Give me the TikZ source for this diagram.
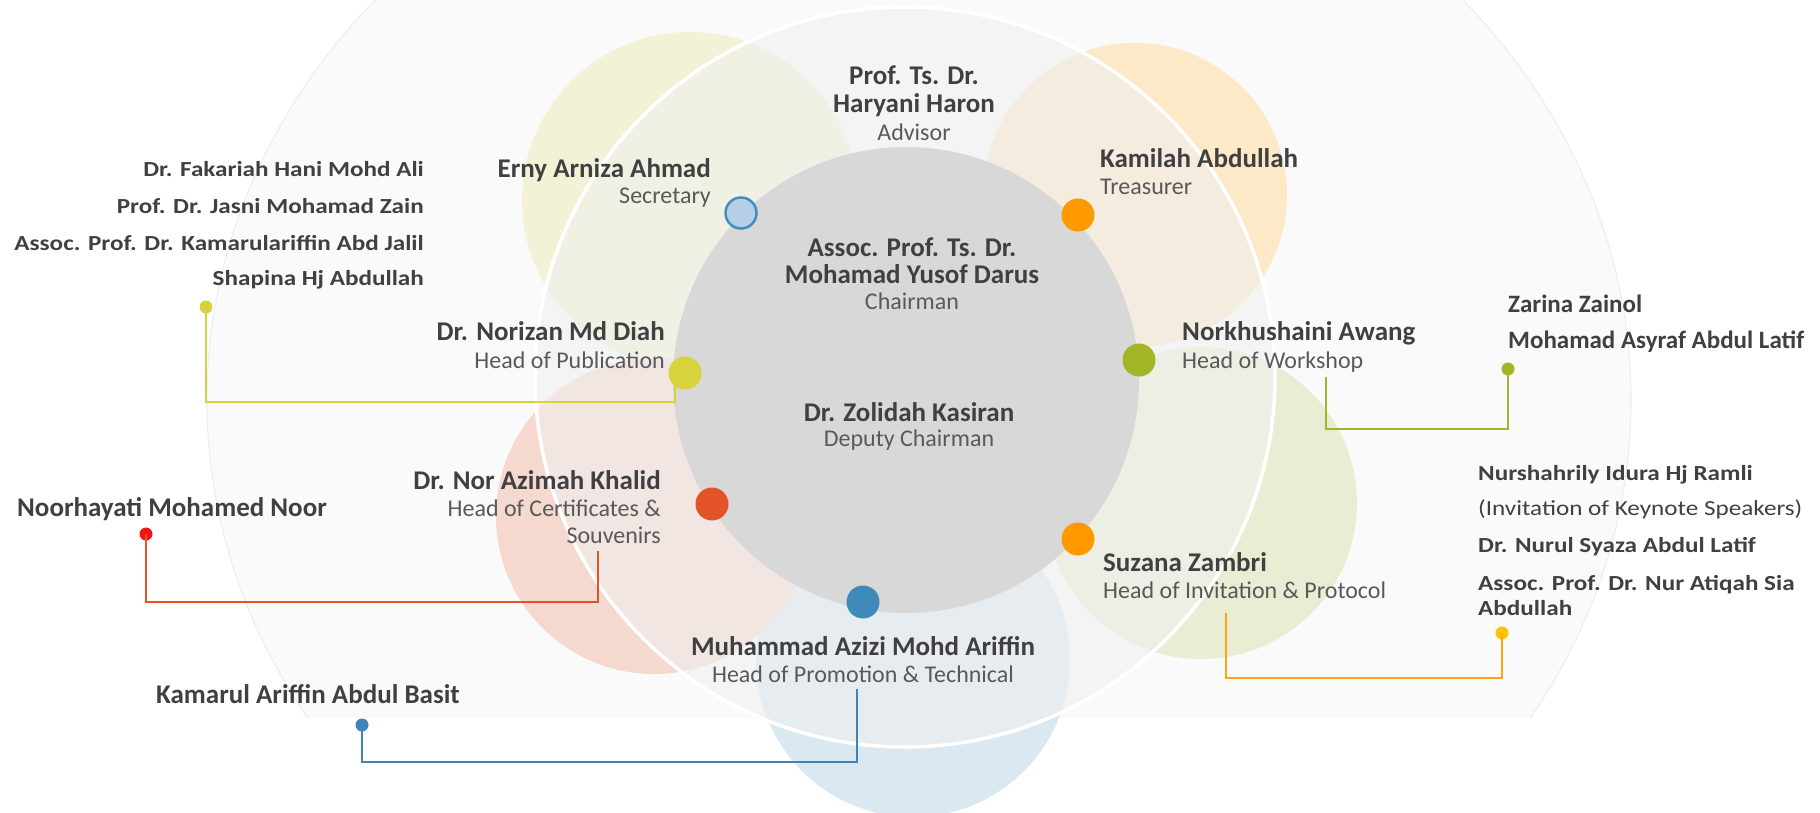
\documentclass[tikz,border=0pt]{standalone}
\usepackage{fontspec}
\setmainfont{Carlito}
\newfontfamily\widefont[FakeStretch=1.17]{Carlito}
\definecolor{cName}{RGB}{64,64,64}
\definecolor{cRole}{RGB}{89,89,89}
\definecolor{outerfill}{RGB}{250,250,250}
\definecolor{outeredge}{RGB}{238,238,238}
\definecolor{midfill}{RGB}{240,240,240}
\definecolor{coregray}{RGB}{216,216,216}
\definecolor{petYellow}{RGB}{244,242,214}
\definecolor{petOrange}{RGB}{253,232,200}
\definecolor{petGreen}{RGB}{233,237,211}
\definecolor{petBlue}{RGB}{218,232,242}
\definecolor{petRed}{RGB}{245,217,207}
\definecolor{secFill}{RGB}{182,207,231}
\definecolor{secDraw}{RGB}{66,142,192}
\definecolor{dOrange}{RGB}{255,153,0}
\definecolor{dGreen}{RGB}{163,181,39}
\definecolor{dBlue}{RGB}{62,138,184}
\definecolor{dRed}{RGB}{226,84,40}
\definecolor{dYellow}{RGB}{216,211,60}
\definecolor{lPub}{RGB}{214,209,62}
\definecolor{lWork}{RGB}{163,181,39}
\definecolor{lCert}{RGB}{226,84,40}
\definecolor{eCert}{RGB}{240,20,20}
\definecolor{lPromo}{RGB}{60,133,182}
\definecolor{lInv}{RGB}{255,165,20}
\definecolor{eInv}{RGB}{255,198,0}
\begin{document}
\begin{tikzpicture}[x=1pt,y=-1pt,
  namet/.style={font=\fontsize{27}{30}\selectfont\bfseries, text=cName, inner sep=0pt},
  rolet/.style={font=\fontsize{24}{28}\selectfont, text=cRole, inner sep=0pt},
  sidet/.style={font=\widefont\fontsize{21.5}{26}\selectfont\bfseries, text=cName, inner sep=0pt},
  sidereg/.style={font=\widefont\fontsize{21.5}{26}\selectfont, text=cName, inner sep=0pt},
  bigt/.style={font=\fontsize{27}{30}\selectfont\bfseries, text=cName, inner sep=0pt},
  midt/.style={font=\fontsize{25}{30}\selectfont\bfseries, text=cName, inner sep=0pt},
  bigdot/.style={circle, minimum size=33pt, inner sep=0pt},
  enddot/.style={circle, minimum size=13pt, inner sep=0pt},
  conn/.style={line width=2.5pt}]
\useasboundingbox (0,0) rectangle (1820,813);
% outer pale shape
\begin{scope}
  \clip (0,0) rectangle (1820,717);
  \filldraw[fill=outerfill, draw=outeredge, line width=1.2pt] (919,400) ellipse [x radius=712, y radius=620];
\end{scope}
% petals
\fill[petYellow] (690,200) circle [radius=168];
\fill[petOrange] (1135,195) circle [radius=152];
\fill[petGreen] (1201,503) circle [radius=156];
\fill[petBlue] (913,660) circle [radius=157];
\fill[petRed] (654,516) circle [radius=158];
% middle ring
\fill[midfill, fill opacity=0.6] (905,377) circle [radius=370];
\draw[white, line width=3.5pt] (905,377) circle [radius=370];
% core
\fill[coregray] (906,380) circle [radius=233];

% connector coordinates and end dots
\coordinate (pubS) at (675,383);   \coordinate (pubY) at (0,402);
\coordinate (workS) at (1326,377); \coordinate (workY) at (0,429);
\coordinate (certS) at (598,551);  \coordinate (certY) at (0,602);
\coordinate (promoS) at (857,689); \coordinate (promoY) at (0,762);
\coordinate (invS) at (1226,613);  \coordinate (invY) at (0,678);
\node[enddot, fill=lPub] (pubEnd) at (206,307) {};
\node[enddot, fill=lWork] (workEnd) at (1508,369) {};
\node[enddot, fill=eCert] (certEnd) at (146,534) {};
\node[enddot, fill=lPromo] (promoEnd) at (362,725) {};
\node[enddot, fill=eInv] (invEnd) at (1502,633) {};
\draw[conn, lPub] (pubS) -- (pubS |- pubY) -| (pubEnd.center);
\draw[conn, lWork] (workS) -- (workS |- workY) -| (workEnd.center);
\draw[conn, lCert] (certS) -- (certS |- certY) -| (certEnd.center);
\draw[conn, lPromo] (promoS) -- (promoS |- promoY) -| (promoEnd.center);
\draw[conn, lInv] (invS) -- (invS |- invY) -| (invEnd.center);

% big dots
\node[bigdot, fill=secFill, draw=secDraw, line width=2.5pt, minimum size=31pt] (secDot) at (741,213) {};
\node[bigdot, fill=dOrange] (treDot) at (1078,215) {};
\node[bigdot, fill=dGreen] (workDot) at (1139,360) {};
\node[bigdot, fill=dOrange] (invDot) at (1078,539) {};
\node[bigdot, fill=dBlue] (promoDot) at (863,602) {};
\node[bigdot, fill=dRed] (certDot) at (712,504) {};
\node[bigdot, fill=dYellow] (pubDot) at (685,373) {};

% texts: advisor
\node[namet, anchor=base] (advA) at (914,85) {Prof. Ts. Dr.};
\node[namet, anchor=base] (advB) at (914,113) {Haryani Haron};
\node[rolet, anchor=base] (advR) at (914,141) {Advisor};
% secretary
\node[namet, anchor=base east] (secN) at (711,178) {Erny Arniza Ahmad};
\node[rolet, anchor=base east] (secR) at (711,204) {Secretary};
% chairman
\node[namet, anchor=base] (chA) at (912,256) {Assoc. Prof. Ts. Dr.};
\node[namet, anchor=base] (chB) at (912,283) {Mohamad Yusof Darus};
\node[rolet, anchor=base] (chR) at (912,309) {Chairman};
% treasurer
\node[namet, anchor=base west] (treN) at (1100,168) {Kamilah Abdullah};
\node[rolet, anchor=base west] (treR) at (1100,195) {Treasurer};
% workshop
\node[namet, anchor=base west] (workN) at (1182,340) {Norkhushaini Awang};
\node[rolet, anchor=base west] (workR) at (1182,368) {Head of Workshop};
% publication
\node[namet, anchor=base east] (pubN) at (665,340) {Dr. Norizan Md Diah};
\node[rolet, anchor=base east] (pubR) at (665,368) {Head of Publication};
% deputy
\node[namet, anchor=base] (depN) at (909,421) {Dr. Zolidah Kasiran};
\node[rolet, anchor=base] (depR) at (909,446) {Deputy Chairman};
% certificates
\node[namet, anchor=base east] (certN) at (661,489) {Dr. Nor Azimah Khalid};
\node[rolet, anchor=base east] (certR) at (661,516) {Head of Certificates \&};
\node[rolet, anchor=base east] (certR2) at (661,543) {Souvenirs};
% invitation
\node[namet, anchor=base west] (invN) at (1103,571) {Suzana Zambri};
\node[rolet, anchor=base west] (invR) at (1103,598) {Head of Invitation \& Protocol};
% promotion
\node[namet, anchor=base] (promoN) at (863,655) {Muhammad Azizi Mohd Ariffin};
\node[rolet, anchor=base] (promoR) at (863,682) {Head of Promotion \& Technical};

% publication members
\node[sidet, anchor=base east] (pm1) at (424,177) {Dr. Fakariah Hani Mohd Ali};
\node[sidet, anchor=base east] (pm2) at (424,214) {Prof. Dr. Jasni Mohamad Zain};
\node[sidet, anchor=base east] (pm3) at (424,250) {Assoc. Prof. Dr. Kamarulariffin Abd Jalil};
\node[sidet, anchor=base east] (pm4) at (424,285) {Shapina Hj Abdullah};
% certificates member
\node[bigt, anchor=base west] (cm1) at (17,516) {Noorhayati Mohamed Noor};
% promotion member
\node[bigt, anchor=base west] (prm1) at (156,703) {Kamarul Ariffin Abdul Basit};
% workshop members
\node[midt, anchor=base west] (wm1) at (1508,312) {Zarina Zainol};
\node[midt, anchor=base west] (wm2) at (1508,348) {Mohamad Asyraf Abdul Latif};
% invitation members
\node[sidet, anchor=base west] (im1) at (1478,480) {Nurshahrily Idura Hj Ramli};
\node[sidereg, anchor=base west] (im2) at (1478,515) {(Invitation of Keynote Speakers)};
\node[sidet, anchor=base west] (im3) at (1478,552) {Dr. Nurul Syaza Abdul Latif};
\node[sidet, anchor=base west] (im4) at (1478,590) {Assoc. Prof. Dr. Nur Atiqah Sia};
\node[sidet, anchor=base west] (im5) at (1478,615) {Abdullah};
\end{tikzpicture}
\end{document}
